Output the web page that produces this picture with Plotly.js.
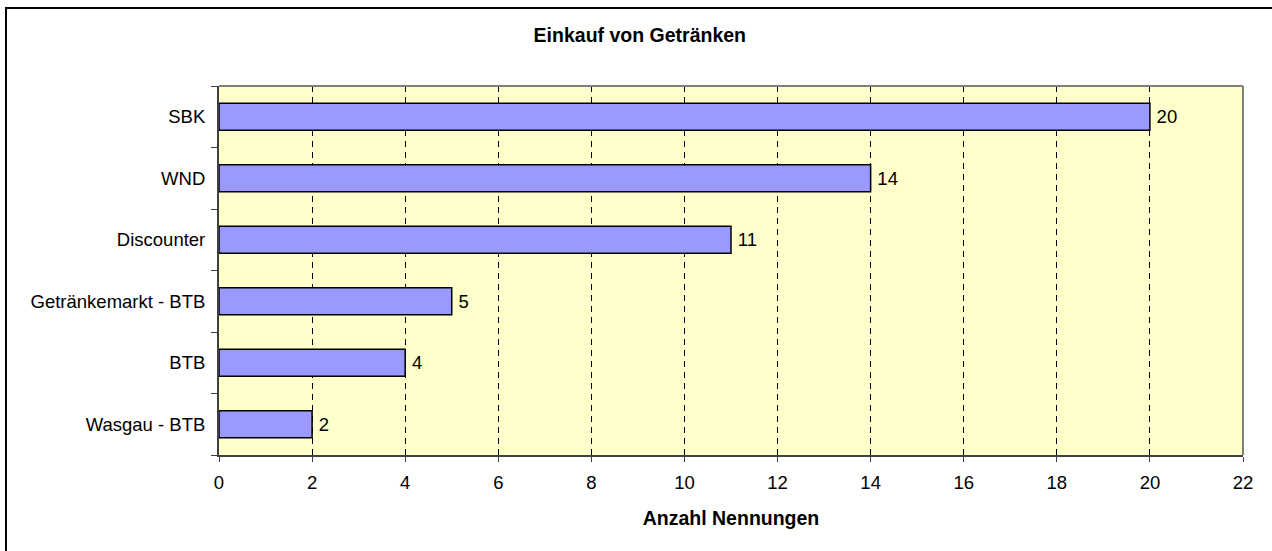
<!DOCTYPE html>
<html>
<head>
<meta charset="utf-8">
<script src="https://cdn.plot.ly/plotly-3.0.1.min.js"></script>
<style>
  body { margin: 0; padding: 0; background: #fff; }
  #chart { width: 1272px; height: 551px; position: absolute; left: 0; top: 0; }
  #frame { position: absolute; left: 5px; top: 7px; width: 1300px; height: 600px;
           border-left: 2px solid #000; border-top: 2px solid #000; pointer-events: none; }
</style>
</head>
<body>
<div id="chart"></div>
<div id="frame"></div>
<script>
const categories = ["Wasgau - BTB", "BTB", "Getränkemarkt - BTB", "Discounter", "WND", "SBK"];
const values = [2, 4, 5, 11, 14, 20];
const xTickValues = [0, 2, 4, 6, 8, 10, 12, 14, 16, 18, 20, 22];

const FONT = "Liberation Sans, Arial, sans-serif";

const trace = {
  type: "bar",
  orientation: "h",
  y: categories,
  x: values,
  text: values.map(v => "\u2009" + v),
  textposition: "outside",
  cliponaxis: false,
  textfont: { family: FONT, size: 18.5, color: "#000" },
  marker: { color: "#9999FF", line: { color: "#000", width: 1.5 } },
  hoverinfo: "none"
};

const layout = {
  width: 1272,
  height: 551,
  margin: { l: 219, r: 29, t: 86, b: 96 },
  paper_bgcolor: "#ffffff",
  plot_bgcolor: "#FFFFCC",
  bargap: 0.56,
  showlegend: false,
  font: { family: FONT, size: 18.5, color: "#000" },
  title: {
    text: "<b>Einkauf von Getränken</b>",
    font: { family: FONT, size: 19.5, color: "#000" },
    xref: "container", x: 0.503, xanchor: "center",
    yref: "container", y: 1 - 35 / 551, yanchor: "middle"
  },
  xaxis: {
    range: [0, 22],
    tickvals: xTickValues,
    ticktext: xTickValues.map(String),
    ticks: "outside",
    ticklen: 5,
    tickcolor: "#404040",
    tickwidth: 1,
    ticklabelstandoff: 5,
    showline: true,
    linecolor: "#404040",
    linewidth: 2,
    showgrid: true,
    gridcolor: "#000",
    gridwidth: 1,
    griddash: "6px,5px",
    zeroline: false,
    tickfont: { family: FONT, size: 18.5, color: "#000" },
    title: {
      text: "<b>Anzahl Nennungen</b>",
      font: { family: FONT, size: 19.5, color: "#000" },
      standoff: 19
    },
    fixedrange: true
  },
  yaxis: {
    type: "category",
    categoryorder: "array",
    categoryarray: categories,
    tickson: "boundaries",
    ticks: "outside",
    ticklen: 6,
    tickcolor: "#404040",
    tickwidth: 1,
    ticklabelstandoff: 8,
    showline: true,
    linecolor: "#404040",
    linewidth: 2,
    showgrid: false,
    zeroline: false,
    tickfont: { family: FONT, size: 18.5, color: "#000" },
    fixedrange: true
  },
  shapes: [
    { type: "line", xref: "paper", yref: "paper", x0: 0, x1: 1, y0: 1, y1: 1,
      line: { color: "#808080", width: 2 }, layer: "above" },
    { type: "line", xref: "paper", yref: "paper", x0: 1, x1: 1, y0: 0, y1: 1,
      line: { color: "#808080", width: 2 }, layer: "above" }
  ]
};

Plotly.newPlot("chart", [trace], layout, { staticPlot: true, displayModeBar: false });
</script>
</body>
</html>
